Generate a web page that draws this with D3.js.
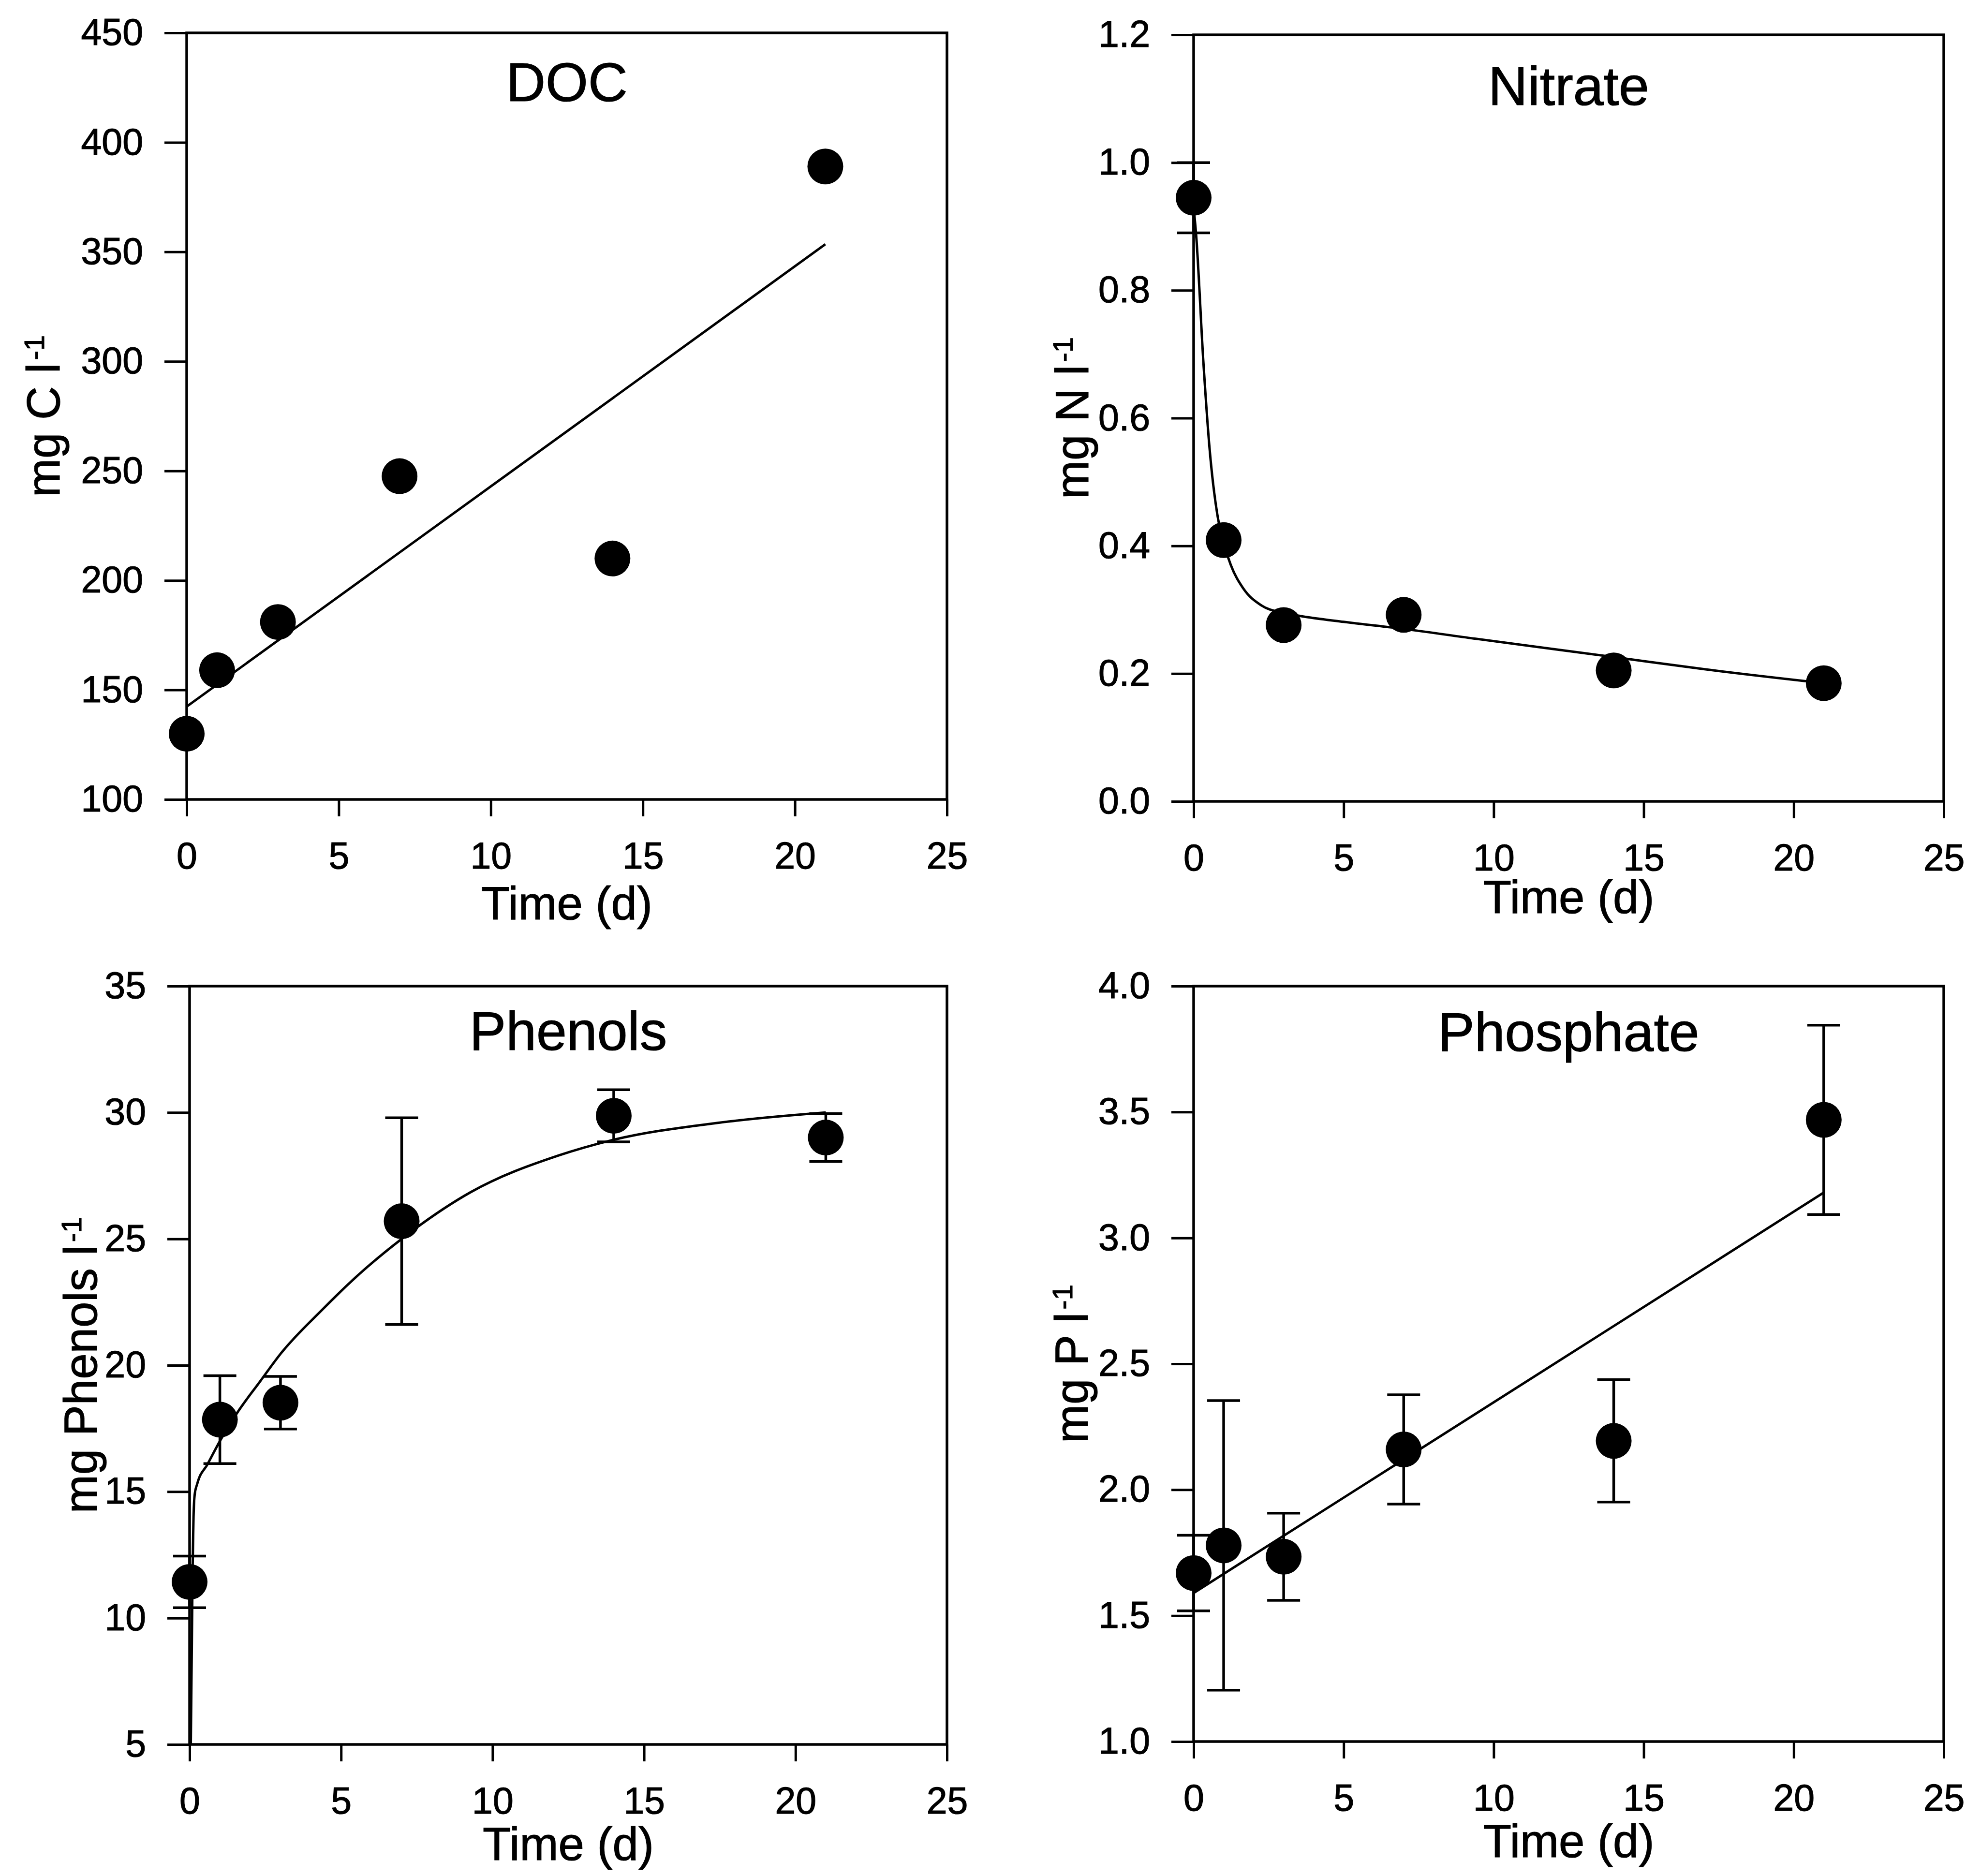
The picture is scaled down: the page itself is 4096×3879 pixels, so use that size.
<!DOCTYPE html>
<html>
<head>
<meta charset="utf-8">
<script src="https://cdn.jsdelivr.net/npm/d3@7"></script>
<style>
  body { margin: 0; background: #fff; }
  svg text { font-family: "Liberation Sans", Arial, sans-serif; fill: #000; stroke: #000; stroke-width: 1.2px; }
</style>
</head>
<body>
<svg id="chart" width="4096" height="3879"></svg>
<script>
// sampling days, shared by all four panels
const days = [0, 1, 3, 7, 14, 21];
const xTicks = [0, 5, 10, 15, 20, 25];

// DOC, mg C l-1 (no error bars)
const docMean = [130, 159, 181, 247.6, 210, 389];
const docFitDays = [0, 21];
const docFit = [142.4, 353.5];
const docTicks = [100, 150, 200, 250, 300, 350, 400, 450];

// nitrate, mg N l-1
const nitrateMean = [0.945, 0.409, 0.276, 0.292, 0.205, 0.185];
const nitrateErr = [0.055, 0, 0, 0, 0, 0];
const nitrateFitDays = [0, 0.08, 0.33, 0.53, 0.79, 1, 1.24, 1.66, 2.25, 3, 3.58, 5, 7, 9.33, 14, 17, 21];
const nitrateFit = [0.93, 0.889, 0.684, 0.553, 0.449, 0.405, 0.370, 0.333, 0.307, 0.295, 0.290, 0.281, 0.270, 0.255, 0.226, 0.207, 0.185];
const nitrateTicks = [0, 0.2, 0.4, 0.6, 0.8, 1.0, 1.2];

// phenols, mg Phenols l-1
const phenolMean = [11.43, 17.85, 18.52, 25.7, 29.87, 29.01];
const phenolErr = [1.02, 1.74, 1.04, 4.09, 1.03, 0.95];
const phenolFitDays = [0.04, 0.1, 0.13, 0.17, 0.25, 0.6, 1.0, 1.56, 2.32, 3.0, 4.38, 5.5, 7.0, 9.28, 12.18, 13.92, 17.5, 21];
const phenolFit = [5, 12.0, 14.0, 14.9, 15.3, 16.1, 17.0, 18.1, 19.35, 20.45, 22.2, 23.5, 25.0, 26.85, 28.3, 28.9, 29.6, 30.0];
const phenolTicks = [5, 10, 15, 20, 25, 30, 35];

// phosphate, mg P l-1
const phosphateMean = [1.669, 1.779, 1.734, 2.16, 2.194, 3.469];
const phosphateErr = [0.15, 0.575, 0.173, 0.217, 0.243, 0.376];
const phosphateFitDays = [0, 21];
const phosphateFit = [1.59, 3.18];
const phosphateTicks = [1.0, 1.5, 2.0, 2.5, 3.0, 3.5, 4.0];

const svg = d3.select('#chart');

const panels = [
  { title: 'DOC', unit: 'mg C l', left: 386, right: 1958, top: 68, bottom: 1653,
    yDomain: [100, 450], yTicks: docTicks, fmt: d3.format('d'),
    mean: docMean, err: null, fitDays: docFitDays, fit: docFit, curve: d3.curveLinear,
    titleDy: 141, xTitleDy: 248, yTitleDx: 263 },
  { title: 'Nitrate', unit: 'mg N l', left: 2468, right: 4019, top: 72, bottom: 1657,
    yDomain: [0, 1.2], yTicks: nitrateTicks, fmt: d3.format('.1f'),
    mean: nitrateMean, err: nitrateErr, fitDays: nitrateFitDays, fit: nitrateFit, curve: d3.curveMonotoneX,
    titleDy: 145, xTitleDy: 231, yTitleDx: 218 },
  { title: 'Phenols', unit: 'mg Phenols l', left: 392, right: 1958, top: 2039, bottom: 3607,
    yDomain: [5, 35], yTicks: phenolTicks, fmt: d3.format('d'),
    mean: phenolMean, err: phenolErr, fitDays: phenolFitDays, fit: phenolFit, curve: d3.curveMonotoneX,
    titleDy: 132, xTitleDy: 239, yTitleDx: 192 },
  { title: 'Phosphate', unit: 'mg P l', left: 2468, right: 4019, top: 2039, bottom: 3601,
    yDomain: [1, 4], yTicks: phosphateTicks, fmt: d3.format('.1f'),
    mean: phosphateMean, err: phosphateErr, fitDays: phosphateFitDays, fit: phosphateFit, curve: d3.curveLinear,
    titleDy: 134, xTitleDy: 239, yTitleDx: 219 }
];

panels.forEach(function(p) {
  const x = d3.scaleLinear().domain([0, 25]).range([p.left, p.right]);
  const y = d3.scaleLinear().domain(p.yDomain).range([p.bottom, p.top]);
  const g = svg.append('g');
  const cx = (p.left + p.right) / 2;

  // axes (ticks outward), frame drawn separately
  const ya = g.append('g')
      .attr('transform', 'translate(' + p.left + ',0)')
      .call(d3.axisLeft(y).tickValues(p.yTicks).tickFormat(p.fmt)
            .tickSize(46).tickSizeOuter(0).tickPadding(44));
  const xa = g.append('g')
      .attr('transform', 'translate(0,' + p.bottom + ')')
      .call(d3.axisBottom(x).tickValues(xTicks).tickFormat(d3.format('d'))
            .tickSize(35).tickSizeOuter(0).tickPadding(53));
  [ya, xa].forEach(function(a) {
    a.select('.domain').remove();
    a.attr('font-size', null).attr('font-family', null);
    a.selectAll('line').attr('stroke', '#000').attr('stroke-width', 5);
    a.selectAll('text').style('font-size', '77px').attr('fill', '#000');
  });

  g.append('rect')
      .attr('x', p.left).attr('y', p.top)
      .attr('width', p.right - p.left).attr('height', p.bottom - p.top)
      .attr('fill', 'none').attr('stroke', '#000').attr('stroke-width', 5.5);

  // fitted line / curve
  const fitPts = p.fitDays.map(function(d, i) { return [d, p.fit[i]]; });
  g.append('path')
      .datum(fitPts)
      .attr('fill', 'none').attr('stroke', '#000').attr('stroke-width', 5)
      .attr('d', d3.line().x(function(d) { return x(d[0]); })
                          .y(function(d) { return y(d[1]); }).curve(p.curve));

  const pts = days.map(function(d, i) {
    return { t: d, v: p.mean[i], e: p.err ? p.err[i] : 0 };
  });

  // error bars
  const eb = g.selectAll('.eb').data(pts.filter(function(d) { return d.e > 0; }))
      .enter().append('g').attr('stroke', '#000').attr('stroke-width', 5.5);
  eb.append('line')
      .attr('x1', function(d) { return x(d.t); }).attr('x2', function(d) { return x(d.t); })
      .attr('y1', function(d) { return y(d.v - d.e); }).attr('y2', function(d) { return y(d.v + d.e); });
  [-1, 1].forEach(function(s) {
    eb.append('line')
        .attr('x1', function(d) { return x(d.t) - 34; }).attr('x2', function(d) { return x(d.t) + 34; })
        .attr('y1', function(d) { return y(d.v + s * d.e); }).attr('y2', function(d) { return y(d.v + s * d.e); });
  });

  // markers
  g.selectAll('circle').data(pts).enter().append('circle')
      .attr('cx', function(d) { return x(d.t); })
      .attr('cy', function(d) { return y(d.v); })
      .attr('r', 37).attr('fill', '#000');

  // titles
  g.append('text').attr('x', cx).attr('y', p.top + p.titleDy)
      .attr('text-anchor', 'middle').style('font-size', '113px').text(p.title);
  g.append('text').attr('x', cx).attr('y', p.bottom + p.xTitleDy)
      .attr('text-anchor', 'middle').style('font-size', '96px').text('Time (d)');
  const yl = g.append('text')
      .attr('transform', 'translate(' + (p.left - p.yTitleDx) + ',' + ((p.top + p.bottom) / 2) + ') rotate(-90)')
      .attr('text-anchor', 'middle').style('font-size', '96px');
  yl.append('tspan').text(p.unit);
  yl.append('tspan').attr('dx', 6).attr('dy', -32).style('font-size', '58px').text('-1');
});
</script>
</body>
</html>
